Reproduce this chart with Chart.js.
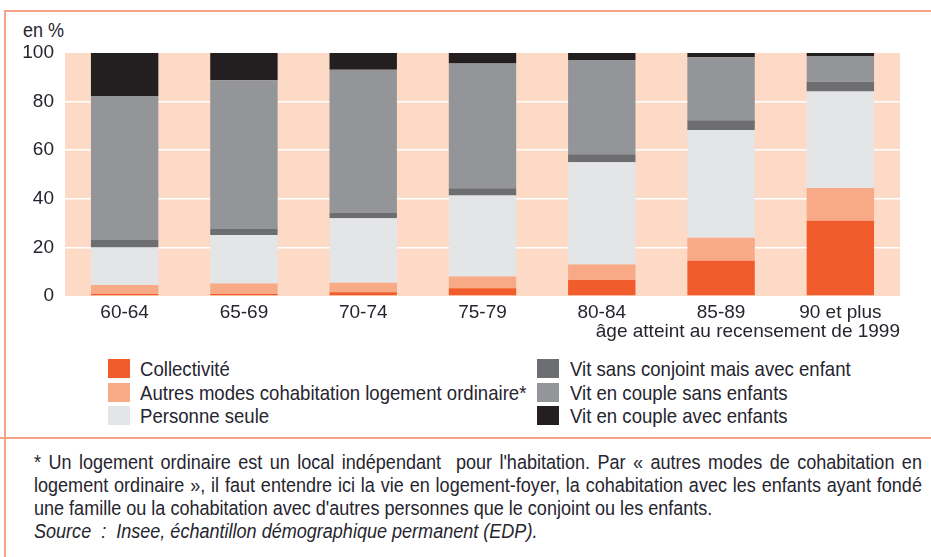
<!DOCTYPE html>
<html><head><meta charset="utf-8">
<script src="https://cdn.jsdelivr.net/npm/chart.js@4/dist/chart.umd.min.js"></script>
<style>
html,body{margin:0;padding:0;background:#fff;}
body{width:931px;height:557px;position:relative;overflow:hidden;font-family:'Liberation Sans',Arial,sans-serif;color:#26252f;}
#wrap{position:absolute;left:0;top:0;width:931px;height:345px;}
.hl{position:absolute;background:#f3a383;}
#unit{position:absolute;left:23px;top:19px;font-size:20px;transform:scaleX(0.9);transform-origin:left top;}
#legend{position:absolute;left:0;top:357px;width:931px;height:75px;}
.li{position:absolute;font-size:21px;line-height:23px;white-space:nowrap;transform:scaleX(0.885);transform-origin:left top;}
.sw{position:absolute;width:22px;height:19px;}
#note{position:absolute;left:34px;top:450px;width:1009px;font-size:20.5px;line-height:23px;transform:scaleX(0.88);transform-origin:left top;}
#note div{white-space:nowrap;}
#note .j{text-align:justify;text-align-last:justify;white-space:normal;}
</style></head>
<body>
<div class="hl" style="left:4px;top:10px;width:927px;height:1.5px"></div>
<div class="hl" style="left:4px;top:10px;width:1.5px;height:547px"></div>
<div class="hl" style="left:0;top:437px;width:931px;height:1.5px"></div>
<div id="unit">en %</div>
<div id="wrap"><canvas id="c" width="931" height="345"></canvas></div>
<div id="legend"></div>
<div id="note">
<div class="j">* Un logement ordinaire est un local indépendant &nbsp;pour l'habitation. Par « autres modes de cohabitation en</div>
<div class="j">logement ordinaire », il faut entendre ici la vie en logement-foyer, la cohabitation avec les enfants ayant fondé</div>
<div>une famille ou la cohabitation avec d'autres personnes que le conjoint ou les enfants.</div>
<div><i>Source &nbsp;: &nbsp;Insee, échantillon démographique permanent (EDP).</i></div>
</div>
<script>
const categories = ['60-64','65-69','70-74','75-79','80-84','85-89','90 et plus'];
const collectivite   = [0.8, 0.8, 1.5, 3.2, 6.6, 14.5, 31.0];
const autresModes    = [3.7, 4.3, 4.0, 4.8, 6.4, 9.5, 13.4];
const personneSeule  = [15.5, 20.0, 26.5, 33.4, 42.0, 44.3, 39.8];
const sansConjoint   = [3.0, 2.5, 2.4, 2.9, 3.3, 4.0, 4.0];
const coupleSansEnf  = [59.3, 61.2, 58.7, 51.4, 38.8, 25.9, 10.6];
const coupleAvecEnf  = [17.7, 11.2, 6.9, 4.3, 2.9, 1.8, 1.2];
const seriesNames = ['Collectivité','Autres modes cohabitation logement ordinaire*','Personne seule','Vit sans conjoint mais avec enfant','Vit en couple sans enfants','Vit en couple avec enfants'];
const yTicks = [0,20,40,60,80,100];
const xTitle = 'âge atteint au recensement de 1999';

const colors = ['#f15c2c','#f8a986','#e4e5e7','#6d6e71','#939598','#231f20'];
const seriesData = [collectivite, autresModes, personneSeule, sansConjoint, coupleSansEnf, coupleAvecEnf];
const FONT = "'Liberation Sans',Arial,sans-serif";
const TXT = '#26252f';

const bgPlugin = {
  id:'bg',
  beforeDraw(chart){
    const {ctx, chartArea:a} = chart;
    ctx.save(); ctx.fillStyle='#fddac6';
    ctx.fillRect(a.left,a.top,a.right-a.left,a.bottom-a.top);
    ctx.restore();
  }
};

new Chart(document.getElementById('c'), {
  type:'bar',
  data:{
    labels:categories,
    datasets: seriesData.map((d,i)=>({label:seriesNames[i],data:d,backgroundColor:colors[i],borderWidth:0,barPercentage:0.565,categoryPercentage:1}))
  },
  options:{
    responsive:false, animation:false, devicePixelRatio:1,
    layout:{padding:{left:0,right:31,top:53,bottom:0}},
    plugins:{legend:{display:false},tooltip:{enabled:false}},
    scales:{
      x:{stacked:true,
        grid:{display:false,drawTicks:false},border:{display:false},
        ticks:{color:TXT,font:{family:FONT,size:19},padding:5},
        title:{display:true,text:xTitle,align:'end',color:TXT,font:{family:FONT,size:19},padding:{top:0,bottom:2}},
        afterFit(s){s.height=49;}
      },
      y:{stacked:true,min:0,max:100,
        afterBuildTicks(s){s.ticks=yTicks.map(v=>({value:v}));},
        grid:{color:(c)=>(c.tick && c.tick.value>0 && c.tick.value<100)?'#ffffff':'rgba(0,0,0,0)',lineWidth:1.5,drawTicks:false},
        border:{display:false},
        ticks:{color:TXT,font:{family:FONT,size:19},padding:11},
        afterFit(s){s.width=65;}
      }
    }
  },
  plugins:[bgPlugin]
});

// legend built from series arrays
const lg = document.getElementById('legend');
seriesNames.forEach((n,i)=>{
  const col = i<3?0:1, row = i%3;
  const sx = col===0?108:537, tx = col===0?140:570;
  const y = row*23.5;
  const sw = document.createElement('div'); sw.className='sw';
  sw.style.left=sx+'px'; sw.style.top=(y+2)+'px'; sw.style.background=colors[i];
  const t = document.createElement('div'); t.className='li';
  t.style.left=tx+'px'; t.style.top=y+'px'; t.textContent=n;
  lg.appendChild(sw); lg.appendChild(t);
});
</script>
</body></html>
